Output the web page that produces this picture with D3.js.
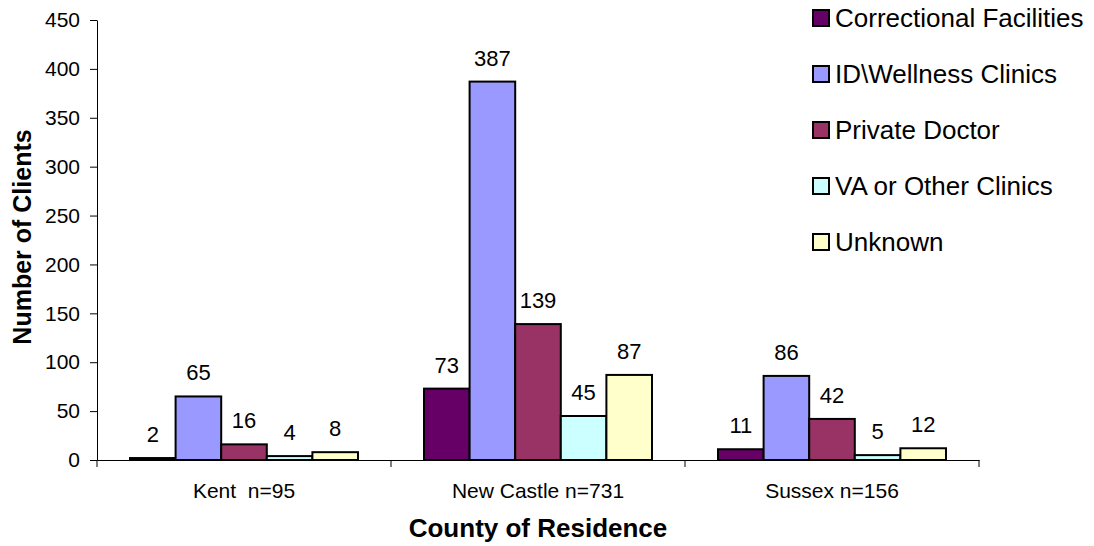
<!DOCTYPE html>
<html><head><meta charset="utf-8">
<script src="https://cdn.jsdelivr.net/npm/d3@7"></script>
<style>body{margin:0;background:#fff}text{font-family:"Liberation Sans",Arial,sans-serif}</style>
</head><body>
<svg id="c" width="1094" height="546"></svg>
<script>
const categories = ["Kent  n=95", "New Castle n=731", "Sussex n=156"];
const seriesNames = ["Correctional Facilities", "ID\\Wellness Clinics", "Private Doctor", "VA or Other Clinics", "Unknown"];
const seriesColors = ["#660066", "#9999ff", "#993366", "#ccffff", "#ffffcc"];
const correctional = [2, 73, 11];
const wellness = [65, 387, 86];
const privateDoctor = [16, 139, 42];
const vaOther = [4, 45, 5];
const unknown = [8, 87, 12];
const yTicks = [0, 50, 100, 150, 200, 250, 300, 350, 400, 450];
const seriesValues = [correctional, wellness, privateDoctor, vaOther, unknown];

(function () {
const svg = d3.select("#c");
const mLeft = 97, mRight = 979, mTop = 20, mBottom = 460;
const x = d3.scaleBand().domain(categories).range([mLeft, mRight]).paddingInner(0).paddingOuter(0);
const y = d3.scaleLinear().domain([0, 450]).range([mBottom, mTop]);
const groupPad = 33;
const xs = d3.scaleBand().domain(d3.range(seriesNames.length)).range([groupPad, x.bandwidth() - groupPad]);

// bars
seriesValues.forEach((vals, si) => {
  svg.append("g").selectAll("rect").data(vals).join("rect")
    .attr("x", (d, i) => x(categories[i]) + xs(si))
    .attr("y", d => y(d))
    .attr("width", xs.bandwidth())
    .attr("height", d => mBottom - y(d))
    .attr("fill", seriesColors[si])
    .attr("stroke", "#000").attr("stroke-width", 2);
  svg.append("g").selectAll("text").data(vals).join("text")
    .attr("x", (d, i) => x(categories[i]) + xs(si) + xs.bandwidth() / 2)
    .attr("y", d => y(d) - 16)
    .attr("text-anchor", "middle")
    .attr("font-size", 22)
    .text(d => d);
});

// y axis
const ya = svg.append("g").attr("transform", `translate(${mLeft},0)`)
  .call(d3.axisLeft(y).tickValues(yTicks).tickSize(7).tickPadding(10).tickSizeOuter(0));
ya.select(".domain").attr("stroke", "#000");
ya.selectAll("text").attr("font-size", 21).attr("fill", "#000").attr("font-family", "Liberation Sans, Arial, sans-serif");

// x axis
const xa = svg.append("g").attr("transform", `translate(0,${mBottom})`)
  .call(d3.axisBottom(x).tickSize(0).tickPadding(23));
xa.select(".domain").attr("stroke", "#000");
xa.selectAll("text").attr("font-size", 21).attr("fill", "#000").attr("font-family", "Liberation Sans, Arial, sans-serif").style("white-space", "pre");
// category separator ticks
const seps = [mLeft].concat(categories.map(c => x(c) + x.bandwidth()));
svg.append("g").selectAll("line").data(seps).join("line")
  .attr("x1", d => d).attr("x2", d => d)
  .attr("y1", mBottom).attr("y2", mBottom + 7)
  .attr("stroke", "#000");

// axis titles
svg.append("text").attr("x", (mLeft + mRight) / 2).attr("y", 537).attr("text-anchor", "middle")
  .attr("font-size", 26).attr("font-weight", "bold").text("County of Residence");
svg.append("text").attr("transform", "translate(31,237) rotate(-90)").attr("text-anchor", "middle")
  .attr("font-size", 25).attr("font-weight", "bold").text("Number of Clients");

// legend
const lg = svg.append("g");
seriesNames.forEach((n, i) => {
  const cy = 18 + i * 56;
  lg.append("rect").attr("x", 813).attr("y", cy - 8).attr("width", 16).attr("height", 16)
    .attr("fill", seriesColors[i]).attr("stroke", "#000").attr("stroke-width", 2);
  lg.append("text").attr("x", 835).attr("y", cy + 9).attr("font-size", 26).text(n);
});
})();
</script>
</body></html>
